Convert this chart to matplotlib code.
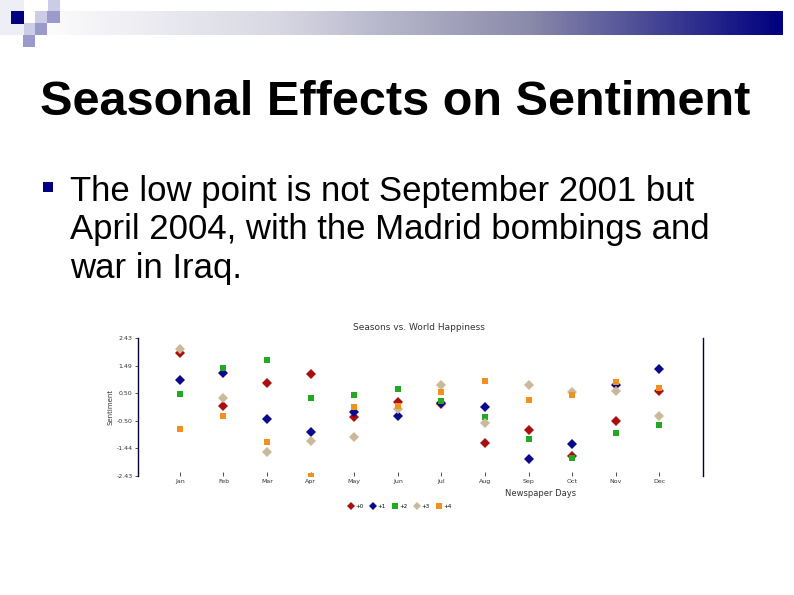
import numpy as np
import matplotlib
matplotlib.use("Agg")
import matplotlib.pyplot as plt
from matplotlib.patches import Rectangle
from matplotlib.lines import Line2D

# ------------------------------------------------------------------ data
months = ["Jan", "Feb", "Mar", "Apr", "May", "Jun",
          "Jul", "Aug", "Sep", "Oct", "Nov", "Dec"]
series_labels = ["+0", "+1", "+2", "+3", "+4"]

s0 = [1.89, 0.02, 0.83, 1.15, -0.36, 0.19, 0.11, -1.26, -0.81, -1.72, -0.49, 0.56]
s1 = [0.95, 1.19, -0.41, -0.89, -0.19, -0.31, 0.13, 0.01, -1.84, -1.31, 0.77, 1.33]
s2 = [0.46, 1.36, 1.64, 0.32, 0.41, 0.62, 0.21, -0.36, -1.13, -1.79, -0.93, -0.64]
s3 = [2.03, 0.31, -1.57, -1.20, -1.05, -0.08, 0.77, -0.57, 0.77, 0.54, 0.57, -0.33]
s4 = [-0.77, -0.33, -1.23, -2.42, 0.01, 0.04, 0.52, 0.93, 0.25, 0.42, 0.89, 0.66]

ytick_vals = [2.43, 1.46, 0.49, -0.49, -1.46, -2.43]
ytick_labels = ["2.43", "1.49", "0.50", "-0.50", "-1.44", "-2.43"]

colors = ["#a81010", "#0a0a8c", "#22a822", "#cbb99c", "#f0901e"]
markers = ["D", "D", "s", "D", "s"]

W, H = 794, 595

fig = plt.figure(figsize=(W / 100, H / 100), dpi=100)

# ------------------------------------------------------------------ slide background
bg = fig.add_axes([0, 0, 1, 1], zorder=0)
bg.set_xlim(0, W)
bg.set_ylim(H, 0)
bg.axis("off")

# gradient header bar (white -> navy)
grad = np.linspace(0, 1, 400)
cmap = matplotlib.colors.LinearSegmentedColormap.from_list(
    "hdr", ["#ffffff", "#d8d8e4", "#8a8aaa", "#000080"])
bg.imshow(grad[None, :], cmap=cmap, aspect="auto",
          extent=[24, 783, 35, 11], zorder=1)

# decorative squares
light = "#ccccE6"
mid = "#9a9acc"
for (x, y, w, h, c) in [(0, 0, 24, 35, "#eeeef6"),
                        (48, 0, 12, 11, light),
                        (11, 11, 13, 13, "#000080"),
                        (35, 11, 12, 12, light),
                        (47, 11, 13, 12, mid),
                        (24, 23, 11, 12, light),
                        (35, 23, 12, 12, mid),
                        (23, 35, 12, 12, mid)]:
    bg.add_patch(Rectangle((x, y), w, h, color=c, lw=0, zorder=2))

# title
bg.text(40, 115, "Seasonal Effects on Sentiment", fontsize=35,
        fontweight="bold", family="Liberation Sans", color="black",
        va="baseline", ha="left")

# bullet
bg.add_patch(Rectangle((43, 182), 10, 10, color="#000080", lw=0, zorder=2))
lines = ["The low point is not September 2001 but",
         "April 2004, with the Madrid bombings and",
         "war in Iraq."]
for i, t in enumerate(lines):
    bg.text(70, 201 + 38.5 * i, t, fontsize=25, family="Liberation Sans",
            color="black", va="baseline", ha="left")

# ------------------------------------------------------------------ chart
ax = fig.add_axes([138 / W, 1 - 476 / H, (703 - 138) / W, (476 - 338) / H],
                  zorder=2)
ax.patch.set_alpha(0)
x = np.arange(1, len(months) + 1)
for vals, c, m, lab in zip([s0, s1, s2, s3, s4], colors, markers, series_labels):
    ax.plot(x, vals, linestyle="none", marker=m, color=c, markersize=5,
            markeredgewidth=0, label=lab)

ax.set_xlim(0.04, 13.0)
ax.set_ylim(-2.43, 2.43)
ax.set_yticks(ytick_vals)
ax.set_yticklabels(ytick_labels)
ax.set_xticks(x)
ax.set_xticklabels(months)
ax.tick_params(axis="both", labelsize=4.5, colors="#333333", length=2,
               width=0.6, pad=2)
ax.tick_params(axis="x", direction="in", length=3)
for side in ["top", "bottom"]:
    ax.spines[side].set_visible(False)
ax.spines["left"].set_color("#000033")
ax.spines["right"].set_color("#000033")
ax.spines["left"].set_linewidth(1)
ax.spines["right"].set_linewidth(1)

ax.set_ylabel("Sentiment", fontsize=5, color="#333333", labelpad=2)

fig.text(419 / W, 1 - 328 / H, "Seasons vs. World Happiness", fontsize=6.5,
         color="#333333", ha="center", va="center")
fig.text(541 / W, 1 - 493 / H, "Newspaper Days", fontsize=6,
         color="#333333", ha="center", va="center")

handles = [Line2D([], [], linestyle="none", marker=m, color=c, markersize=4,
                  markeredgewidth=0)
           for c, m in zip(colors, markers)]
fig.legend(handles, series_labels, loc="center", ncol=5,
           bbox_to_anchor=(400 / W, 1 - 506 / H), frameon=False,
           fontsize=4, handletextpad=0.3, columnspacing=1.2,
           handlelength=1)

fig.savefig("out.png", dpi=100)
